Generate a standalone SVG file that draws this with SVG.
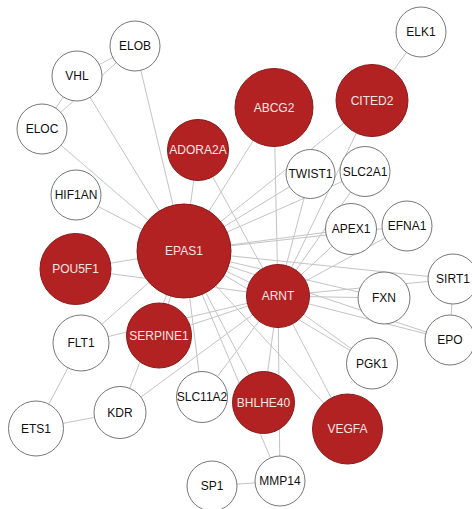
<svg xmlns="http://www.w3.org/2000/svg" width="472" height="509" viewBox="0 0 472 509">
<style>
.e{stroke:#c4c4c4;stroke-width:1;fill:none}
.w circle{fill:#fff;stroke:#777;stroke-width:1}
.r circle{fill:#b22222;stroke:#8a1a1a;stroke-width:1}
text{font-family:"Liberation Sans",Arial,sans-serif;font-size:12px;text-anchor:middle}
.w text{fill:#111}
.r text{fill:#f6e4e4}
</style>
<rect width="472" height="509" fill="#fff"/>
<g id="edges" class="e">
<line x1="421" y1="32" x2="372" y2="100.5"/>
<line x1="42" y1="129" x2="135" y2="46"/>
<line x1="77" y1="76" x2="135" y2="46"/>
<line x1="77" y1="76" x2="42" y2="129"/>
<line x1="135" y1="46" x2="184" y2="251"/>
<line x1="77" y1="76" x2="184" y2="251"/>
<line x1="42" y1="129" x2="184" y2="251"/>
<line x1="76" y1="195" x2="184" y2="251"/>
<line x1="75.5" y1="269" x2="184" y2="251"/>
<line x1="75.5" y1="269" x2="278" y2="296"/>
<line x1="81" y1="343" x2="184" y2="251"/>
<line x1="81" y1="343" x2="278" y2="296"/>
<line x1="81" y1="343" x2="36" y2="428.5"/>
<line x1="36" y1="428.5" x2="120" y2="412.5"/>
<line x1="120" y1="412.5" x2="184" y2="251"/>
<line x1="120" y1="412.5" x2="278" y2="296"/>
<line x1="159" y1="335.5" x2="184" y2="251"/>
<line x1="159" y1="335.5" x2="278" y2="296"/>
<line x1="202" y1="397" x2="184" y2="251"/>
<line x1="202" y1="397" x2="278" y2="296"/>
<line x1="212" y1="486" x2="280" y2="481"/>
<line x1="280" y1="481" x2="278" y2="296"/>
<line x1="280" y1="481" x2="184" y2="251"/>
<line x1="263.5" y1="402.5" x2="184" y2="251"/>
<line x1="263.5" y1="402.5" x2="278" y2="296"/>
<line x1="347.5" y1="429" x2="184" y2="251"/>
<line x1="347.5" y1="429" x2="278" y2="296"/>
<line x1="372" y1="363.5" x2="184" y2="251"/>
<line x1="372" y1="363.5" x2="278" y2="296"/>
<line x1="450" y1="340" x2="184" y2="251"/>
<line x1="450" y1="340" x2="278" y2="296"/>
<line x1="450" y1="340" x2="453" y2="279"/>
<line x1="453" y1="279" x2="184" y2="251"/>
<line x1="453" y1="279" x2="278" y2="296"/>
<line x1="384" y1="298" x2="184" y2="251"/>
<line x1="384" y1="298" x2="278" y2="296"/>
<line x1="407" y1="226" x2="184" y2="251"/>
<line x1="407" y1="226" x2="278" y2="296"/>
<line x1="351" y1="229" x2="184" y2="251"/>
<line x1="351" y1="229" x2="278" y2="296"/>
<line x1="365" y1="171.5" x2="184" y2="251"/>
<line x1="365" y1="171.5" x2="278" y2="296"/>
<line x1="310.5" y1="174" x2="184" y2="251"/>
<line x1="310.5" y1="174" x2="278" y2="296"/>
<line x1="372" y1="100.5" x2="184" y2="251"/>
<line x1="372" y1="100.5" x2="278" y2="296"/>
<line x1="274" y1="107.5" x2="184" y2="251"/>
<line x1="274" y1="107.5" x2="278" y2="296"/>
<line x1="198" y1="150" x2="184" y2="251"/>
<line x1="198" y1="150" x2="278" y2="296"/>
<line x1="184" y1="251" x2="278" y2="296"/>
</g>
<g id="ELK1" class="w"><circle cx="421" cy="32" r="25"/><text x="421" y="36">ELK1</text></g>
<g id="ELOB" class="w"><circle cx="135" cy="46" r="25"/><text x="135" y="50">ELOB</text></g>
<g id="VHL" class="w"><circle cx="77" cy="76" r="25"/><text x="77" y="80">VHL</text></g>
<g id="ELOC" class="w"><circle cx="42" cy="129" r="25"/><text x="42" y="133">ELOC</text></g>
<g id="ABCG2" class="r"><circle cx="274" cy="107.5" r="39"/><text x="274" y="112">ABCG2</text></g>
<g id="CITED2" class="r"><circle cx="372" cy="100.5" r="36"/><text x="372" y="105">CITED2</text></g>
<g id="ADORA2A" class="r"><circle cx="198" cy="150" r="30.5"/><text x="198" y="154">ADORA2A</text></g>
<g id="TWIST1" class="w"><circle cx="310.5" cy="174" r="24.5"/><text x="310.5" y="178">TWIST1</text></g>
<g id="SLC2A1" class="w"><circle cx="365" cy="171.5" r="25"/><text x="365" y="175.5">SLC2A1</text></g>
<g id="HIF1AN" class="w"><circle cx="76" cy="195" r="25"/><text x="76" y="199">HIF1AN</text></g>
<g id="EPAS1" class="r"><circle cx="184" cy="251" r="47"/><text x="184" y="255">EPAS1</text></g>
<g id="APEX1" class="w"><circle cx="351" cy="229" r="25.5"/><text x="351" y="233">APEX1</text></g>
<g id="EFNA1" class="w"><circle cx="407" cy="226" r="25"/><text x="407" y="230">EFNA1</text></g>
<g id="POU5F1" class="r"><circle cx="75.5" cy="269" r="35.5"/><text x="75.5" y="273">POU5F1</text></g>
<g id="SIRT1" class="w"><circle cx="453" cy="279" r="25"/><text x="453" y="283">SIRT1</text></g>
<g id="ARNT" class="r"><circle cx="278" cy="296" r="31.5"/><text x="278" y="300">ARNT</text></g>
<g id="FXN" class="w"><circle cx="384" cy="298" r="26"/><text x="384" y="302">FXN</text></g>
<g id="EPO" class="w"><circle cx="450" cy="340" r="25"/><text x="450" y="344">EPO</text></g>
<g id="FLT1" class="w"><circle cx="81" cy="343" r="28"/><text x="81" y="347">FLT1</text></g>
<g id="SERPINE1" class="r"><circle cx="159" cy="335.5" r="32.5"/><text x="159" y="339.5">SERPINE1</text></g>
<g id="PGK1" class="w"><circle cx="372" cy="363.5" r="25.5"/><text x="372" y="367.5">PGK1</text></g>
<g id="SLC11A2" class="w"><circle cx="202" cy="397" r="25.5"/><text x="202" y="401">SLC11A2</text></g>
<g id="BHLHE40" class="r"><circle cx="263.5" cy="402.5" r="31"/><text x="263.5" y="406.5">BHLHE40</text></g>
<g id="VEGFA" class="r"><circle cx="347.5" cy="429" r="35"/><text x="347.5" y="433">VEGFA</text></g>
<g id="KDR" class="w"><circle cx="120" cy="412.5" r="26"/><text x="120" y="416.5">KDR</text></g>
<g id="ETS1" class="w"><circle cx="36" cy="428.5" r="27.5"/><text x="36" y="432.5">ETS1</text></g>
<g id="MMP14" class="w"><circle cx="280" cy="481" r="25"/><text x="280" y="485">MMP14</text></g>
<g id="SP1" class="w"><circle cx="212" cy="486" r="25"/><text x="212" y="490">SP1</text></g>
</svg>
